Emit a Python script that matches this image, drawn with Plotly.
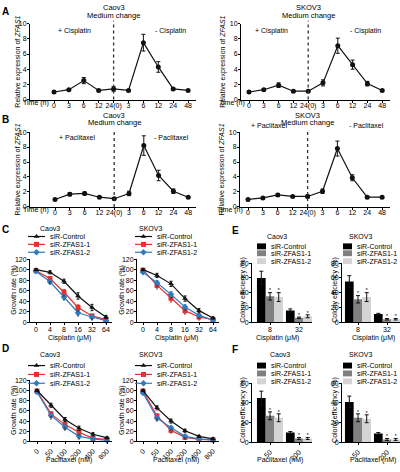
import plotly.graph_objects as go

W, H = 400, 472
FONT = "Liberation Sans, Arial, sans-serif"
FS = 7


def px(x):
    return x / W


def py(y):
    return 1 - y / H


# ---------------- data ----------------
time_labels = ["0", "3", "6", "12", "24(0)", "3", "6", "12", "24", "48"]

caov3_cis = [1.0, 1.3, 2.5, 1.2, 1.4, 1.2, 7.5, 4.3, 1.4, 1.2]
caov3_cis_err = [0.1, 0.1, 0.4, 0.1, 0.3, 0.1, 1.1, 0.7, 0.1, 0.1]
skov3_cis = [1.0, 1.3, 1.9, 1.1, 1.1, 2.2, 7.1, 4.6, 2.1, 1.2]
skov3_cis_err = [0.1, 0.1, 0.3, 0.1, 0.1, 0.4, 1.0, 0.6, 0.3, 0.1]
caov3_pac = [1.0, 1.7, 1.8, 1.3, 1.1, 1.8, 8.2, 4.2, 2.1, 1.3]
caov3_pac_err = [0.1, 0.2, 0.2, 0.1, 0.1, 0.3, 1.3, 0.7, 0.3, 0.1]
skov3_pac = [1.0, 1.2, 1.6, 1.4, 1.4, 2.1, 7.8, 3.9, 1.3, 1.3]
skov3_pac_err = [0.1, 0.1, 0.2, 0.1, 0.2, 0.3, 1.0, 0.4, 0.1, 0.1]

series_names = ["siR-Control", "siR-ZFAS1-1", "siR-ZFAS1-2"]
cis_doses = ["0", "4", "8", "16", "32", "64"]
pac_doses = ["0", "50", "100", "200", "400", "800"]

# C: growth rate, cisplatin
c_caov3_ctrl = [100, 95, 78, 50, 28, 10]
c_caov3_ctrl_err = [2, 3, 4, 6, 6, 3]
c_caov3_z1 = [98, 83, 57, 28, 12, 5]
c_caov3_z1_err = [2, 4, 5, 5, 3, 2]
c_caov3_z2 = [97, 77, 48, 18, 10, 3]
c_caov3_z2_err = [2, 3, 4, 4, 3, 1]
c_skov3_ctrl = [100, 89, 73, 45, 22, 8]
c_skov3_ctrl_err = [2, 4, 5, 5, 4, 2]
c_skov3_z1 = [99, 70, 46, 22, 10, 5]
c_skov3_z1_err = [2, 4, 5, 4, 3, 2]
c_skov3_z2 = [95, 75, 53, 29, 13, 4]
c_skov3_z2_err = [2, 4, 5, 4, 3, 2]

# D: growth rate, paclitaxel
d_caov3_ctrl = [100, 71, 43, 26, 14, 7]
d_caov3_ctrl_err = [2, 4, 4, 4, 3, 2]
d_caov3_z1 = [99, 54, 33, 18, 6, 4]
d_caov3_z1_err = [2, 4, 4, 3, 2, 2]
d_caov3_z2 = [97, 51, 28, 10, 5, 2]
d_caov3_z2_err = [2, 4, 4, 3, 2, 1]
d_skov3_ctrl = [100, 66, 40, 21, 10, 5]
d_skov3_ctrl_err = [2, 4, 4, 3, 2, 2]
d_skov3_z1 = [99, 50, 22, 8, 4, 3]
d_skov3_z1_err = [2, 4, 3, 2, 2, 1]
d_skov3_z2 = [95, 46, 27, 10, 5, 3]
d_skov3_z2_err = [2, 4, 3, 2, 2, 1]

# E: colony efficiency, cisplatin
e_doses = ["8", "32"]
e_caov3_ctrl = [60, 16]
e_caov3_ctrl_err = [9, 2]
e_caov3_z1 = [35, 6]
e_caov3_z1_err = [5, 1]
e_caov3_z2 = [34, 8]
e_caov3_z2_err = [6, 2]
e_skov3_ctrl = [55, 11]
e_skov3_ctrl_err = [8, 1]
e_skov3_z1 = [31, 4]
e_skov3_z1_err = [5, 1]
e_skov3_z2 = [34, 4]
e_skov3_z2_err = [6, 1]

# F: colony efficiency, paclitaxel
f_doses = ["50", "200"]
f_caov3_ctrl = [45, 10]
f_caov3_ctrl_err = [7, 1]
f_caov3_z1 = [27, 4]
f_caov3_z1_err = [4, 1]
f_caov3_z2 = [25, 4]
f_caov3_z2_err = [4, 1]
f_skov3_ctrl = [41, 9]
f_skov3_ctrl_err = [6, 1]
f_skov3_z1 = [25, 3]
f_skov3_z1_err = [4, 1]
f_skov3_z2 = [24, 3]
f_skov3_z2_err = [4, 1]

LINE_COLORS = ["#111111", "#e5302e", "#2f7bc0"]
LINE_SYMBOLS = ["triangle-up", "square", "diamond"]
BAR_COLORS = ["#000000", "#808080", "#d4d4d4"]

fig = go.Figure()
layout = dict(
    width=W, height=H, margin=dict(l=0, r=0, t=0, b=0),
    paper_bgcolor="white", plot_bgcolor="rgba(0,0,0,0)",
    showlegend=False, font=dict(family=FONT, size=FS, color="black"),
    barmode="group", bargap=0.1, bargroupgap=0.0,
)
annotations = []
shapes = []


def axis_base():
    return dict(showline=True, linecolor="black", linewidth=1, ticks="outside",
                ticklen=2, tickwidth=1, tickcolor="black", showgrid=False,
                zeroline=False, tickfont=dict(size=FS, family=FONT), fixedrange=True)


def add_axes(n, xa, xb, ytop, ybot, xrange, yrange, tickvals, ticktext, ydtick,
             tickangle=0, standoff=-3):
    xk = "xaxis" if n == 1 else f"xaxis{n}"
    yk = "yaxis" if n == 1 else f"yaxis{n}"
    xid = "x" if n == 1 else f"x{n}"
    yid = "y" if n == 1 else f"y{n}"
    xa_d = axis_base()
    xa_d.update(domain=[px(xa), px(xb)], range=xrange, anchor=yid,
                tickmode="array", tickvals=tickvals, ticktext=ticktext,
                tickangle=tickangle, ticklabelstandoff=standoff)
    ya_d = axis_base()
    ya_d.update(domain=[py(ybot), py(ytop)], range=yrange, anchor=xid,
                dtick=ydtick, tick0=0, ticklabelstandoff=-1)
    layout[xk] = xa_d
    layout[yk] = ya_d
    return xid, yid


def text(x, y, t, size=FS, angle=0, xanchor="center", bold=False):
    if bold:
        t = f"<b>{t}</b>"
    annotations.append(dict(x=px(x), y=py(y), xref="paper", yref="paper", text=t,
                            showarrow=False, xanchor=xanchor, yanchor="middle",
                            textangle=angle, font=dict(size=size, family=FONT, color="black")))


# ---------------- A & B time courses ----------------
time_panels = [
    (1, caov3_cis, caov3_cis_err, 30, 196, 54, 14.9, 20, 97, "Caov3", "Cisplatin", 27, 18, 36, 74, 170, 0),
    (2, skov3_cis, skov3_cis_err, 241, 390, 249, 14.8, 20, 97, "SKOV3", "Cisplatin", 27, 223, 232, 271, 365, 0),
    (3, caov3_pac, caov3_pac_err, 30, 196, 55, 14.8, 130, 206, "Caov3", "Paclitaxel", 136, 18, 36, 77, 171, 109),
    (4, skov3_pac, skov3_pac_err, 240, 390, 248, 14.9, 130, 206, "SKOV3", "Paclitaxel", 123, 222, 230, 269, 366, 109),
]
for (n, vals, errs, xa, xb, p0, s, ytop, ybot, cell, drug, dly, ytx, timex, plusx, minusx, oy) in time_panels:
    rng = [(xa - p0) / s, (xb - p0) / s]
    xid, yid = add_axes(n, xa, xb, ytop, ybot, rng, [0, 10],
                        list(range(len(time_labels))), time_labels, 2)
    fig.add_trace(go.Scatter(
        x=list(range(len(vals))), y=vals, xaxis=xid, yaxis=yid, mode="lines+markers",
        line=dict(color="#111111", width=1.2),
        marker=dict(symbol="circle", size=5, color="#111111"),
        error_y=dict(type="data", array=errs, color="#111111", thickness=1, width=2),
        cliponaxis=False))
    shapes.append(dict(type="line", xref=xid, yref="paper", x0=4, x1=4,
                       y0=py(ybot), y1=py(ytop - 3),
                       line=dict(color="#333333", width=1.3, dash="dot")))
    cx = p0 + 4 * s
    text(cx, oy + 4, cell, size=7.5)
    text(cx, oy + 11.5, "Medium change", size=7.5)
    text(plusx, dly, "+ " + drug)
    text(minusx, dly, "- " + drug)
    text(ytx, (ytop + ybot) / 2, "Relative expression of <i>ZFAS1</i>", angle=-90)
    text(timex, ybot + 3.5, "Time (h)")

# ---------------- C & D growth curves ----------------
growth_panels = [
    (5, [c_caov3_ctrl, c_caov3_z1, c_caov3_z2], [c_caov3_ctrl_err, c_caov3_z1_err, c_caov3_z2_err],
     30, 112, 36, 14, 259, 323, cis_doses, "Caov3", "Cisplatin (μM)", 0, 14, 50, 228, [236, 244, 252], 28),
    (6, [c_skov3_ctrl, c_skov3_z1, c_skov3_z2], [c_skov3_ctrl_err, c_skov3_z1_err, c_skov3_z2_err],
     137, 219, 143, 14, 259, 323, cis_doses, "SKOV3", "Cisplatin (μM)", 0, 122, 150, 228, [236, 244, 252], 135),
    (7, [d_caov3_ctrl, d_caov3_z1, d_caov3_z2], [d_caov3_ctrl_err, d_caov3_z1_err, d_caov3_z2_err],
     30, 112, 37, 14, 382, 444, pac_doses, "Caov3", "Paclitaxel (nM)", -45, 14, 50, 356, [367, 376, 385], 28),
    (8, [d_skov3_ctrl, d_skov3_z1, d_skov3_z2], [d_skov3_ctrl_err, d_skov3_z1_err, d_skov3_z2_err],
     137, 219, 143, 14, 382, 444, pac_doses, "SKOV3", "Paclitaxel (nM)", -45, 122, 150, 356, [367, 376, 385], 135),
]
legend_items = []
for (n, vals3, errs3, xa, xb, p0, s, ytop, ybot, doses, cell, xtitle, tang, ytx, titx, tity, legy, legx) in growth_panels:
    rng = [(xa - p0) / s, (xb - p0) / s]
    xid, yid = add_axes(n, xa, xb, ytop, ybot, rng, [0, 120],
                        list(range(len(doses))), doses, 20, tickangle=tang,
                        standoff=-2 if tang == 0 else 0)
    for k in [1, 2, 0]:
        fig.add_trace(go.Scatter(
            x=list(range(len(doses))), y=vals3[k], xaxis=xid, yaxis=yid, mode="lines+markers",
            line=dict(color=LINE_COLORS[k], width=1.2),
            marker=dict(symbol=LINE_SYMBOLS[k], size=5, color=LINE_COLORS[k]),
            error_y=dict(type="data", array=errs3[k], color=LINE_COLORS[k], thickness=1, width=1.5),
            cliponaxis=False))
    for k in [1, 2]:
        idx = list(range(1, len(doses)))
        fig.add_trace(go.Scatter(
            x=idx, y=[vals3[k][i] - errs3[k][i] - 5 for i in idx], xaxis=xid, yaxis=yid,
            mode="text", text=["*"] * len(idx), textfont=dict(size=6, color="#222222"),
            cliponaxis=False))
    text(titx, tity, cell)
    text((xa + xb) / 2 - 2, ybot + (16 if tang == 0 else 19), xtitle)
    text(ytx, (ytop + ybot) / 2, "Growth rate (%)", angle=-90)
    for k in range(3):
        legend_items.append(("line", legx, legx + 17, legy[k], LINE_COLORS[k], LINE_SYMBOLS[k], series_names[k]))

# ---------------- E & F colony efficiency ----------------
bar_panels = [
    (9, [e_caov3_ctrl, e_caov3_z1, e_caov3_z2], [e_caov3_ctrl_err, e_caov3_z1_err, e_caov3_z2_err],
     252, 312, 270, 29, 263, 323, 80, e_doses, "Caov3", "Cisplatin (μM)", 0, 243, 277, 236, [246, 253, 261], 257, 277),
    (10, [e_skov3_ctrl, e_skov3_z1, e_skov3_z2], [e_skov3_ctrl_err, e_skov3_z1_err, e_skov3_z2_err],
     342, 400, 358, 29, 263, 323, 80, e_doses, "SKOV3", "Cisplatin (μM)", 0, 335, 360, 236, [246, 253, 261], 343, 373),
    (11, [f_caov3_ctrl, f_caov3_z1, f_caov3_z2], [f_caov3_ctrl_err, f_caov3_z1_err, f_caov3_z2_err],
     252, 312, 270, 29, 385, 445, 60, f_doses, "Caov3", "Paclitaxel (nM)", -45, 243, 280, 356, [367, 375, 383], 257, 280),
    (12, [f_skov3_ctrl, f_skov3_z1, f_skov3_z2], [f_skov3_ctrl_err, f_skov3_z1_err, f_skov3_z2_err],
     342, 400, 358, 29, 385, 445, 60, f_doses, "SKOV3", "Paclitaxel (nM)", -45, 335, 360, 356, [367, 375, 383], 343, 373),
]
for (n, vals3, errs3, xa, xb, p0, s, ytop, ybot, ymax, doses, cell, xtitle, tang, ytx, titx, tity, legy, legx, xtx) in bar_panels:
    rng = [(xa - p0) / s, (xb - p0) / s]
    xid, yid = add_axes(n, xa, xb, ytop, ybot, rng, [0, ymax],
                        list(range(len(doses))), doses, 20, tickangle=tang,
                        standoff=-2 if tang == 0 else 0)
    for k in range(3):
        fig.add_trace(go.Bar(
            x=list(range(len(doses))), y=vals3[k], xaxis=xid, yaxis=yid,
            marker=dict(color=BAR_COLORS[k], line=dict(width=0)),
            error_y=dict(type="data", array=errs3[k], color="#111111", thickness=1, width=2),
            offsetgroup=str(k), cliponaxis=False))
    bw = (1 - 0.1) / 3
    for k in [1, 2]:
        xs = [i + (k - 1) * bw for i in range(len(doses))]
        fig.add_trace(go.Scatter(
            x=xs, y=[vals3[k][i] + errs3[k][i] + ymax * 0.03 for i in range(len(doses))],
            xaxis=xid, yaxis=yid, mode="text", text=["*"] * len(doses),
            textfont=dict(size=6, color="#222222"), cliponaxis=False))
    text(titx, tity, cell)
    text(xtx, ybot + (16 if tang == 0 else 18), xtitle)
    text(ytx, (ytop + ybot) / 2 - 3, "Colony efficiency (%)", angle=-90)
    for k in range(3):
        legend_items.append(("bar", legx, legx + 9, legy[k], BAR_COLORS[k], "square", series_names[k]))

# ---------------- hand-drawn legends on a pixel overlay axis ----------------
layout["xaxis13"] = dict(domain=[0, 1], range=[0, W], visible=False, anchor="y13", fixedrange=True)
layout["yaxis13"] = dict(domain=[0, 1], range=[H, 0], visible=False, anchor="x13", fixedrange=True)
for kind, x0, x1, y, color, sym, label in legend_items:
    if kind == "line":
        fig.add_trace(go.Scatter(x=[x0, x1], y=[y, y], xaxis="x13", yaxis="y13", mode="lines",
                                 line=dict(color=color, width=1.2), hoverinfo="skip"))
        fig.add_trace(go.Scatter(x=[(x0 + x1) / 2], y=[y], xaxis="x13", yaxis="y13", mode="markers",
                                 marker=dict(symbol=sym, size=5, color=color), hoverinfo="skip"))
        text(x1 + 3, y, label, xanchor="left")
    else:
        shapes.append(dict(type="rect", xref="paper", yref="paper", x0=px(x0), x1=px(x1),
                           y0=py(y + 3), y1=py(y - 3), fillcolor=color, line=dict(width=0)))
        text(x1 + 3, y, label, xanchor="left")

# ---------------- panel letters ----------------
for letter, x, y in [("A", 5, 8), ("B", 5, 117), ("C", 5, 229), ("D", 5, 350), ("E", 235, 230), ("F", 235, 351)]:
    text(x, y, letter, size=10, bold=True)

layout["annotations"] = annotations
layout["shapes"] = shapes
fig.update_layout(**layout)
fig.write_html("out.html", config={"displayModeBar": False},
               post_script="document.body.style.margin='0';document.body.style.padding='0';")
